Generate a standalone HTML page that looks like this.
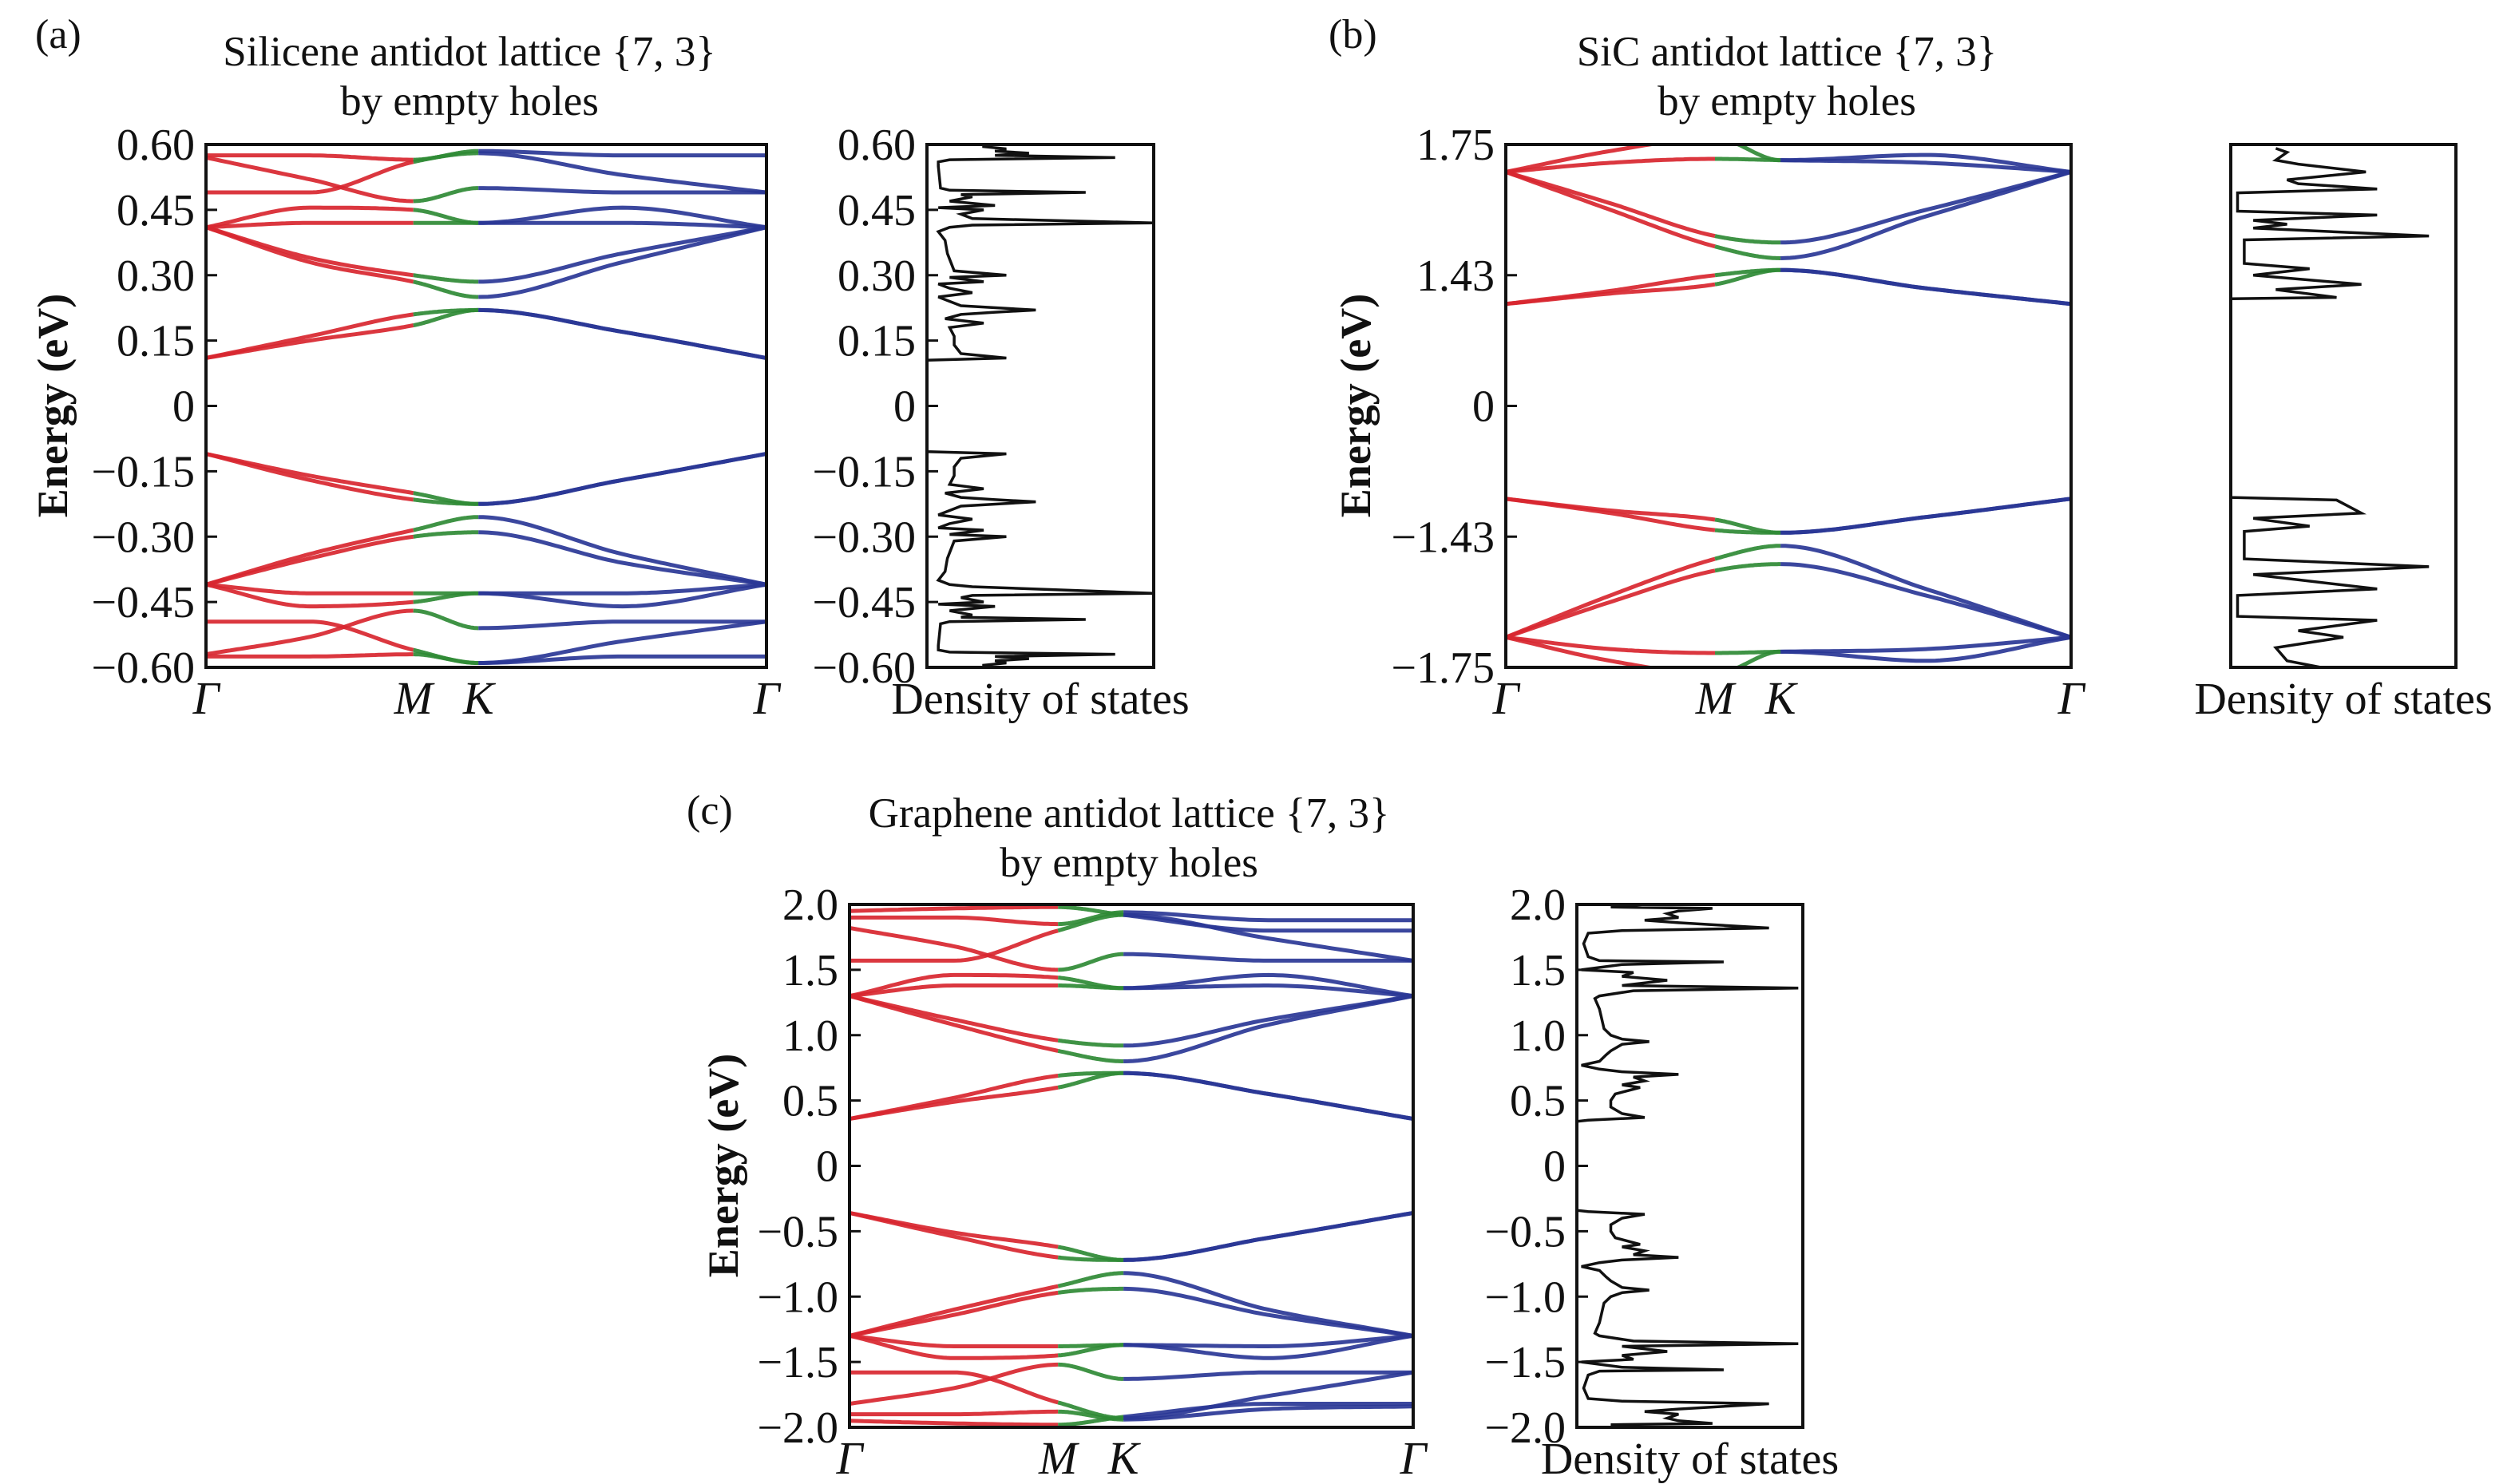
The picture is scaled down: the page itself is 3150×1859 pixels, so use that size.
<!DOCTYPE html>
<html><head><meta charset="utf-8"><style>
html,body{margin:0;padding:0;background:#fff;}
svg{display:block;font-family:"Liberation Serif",serif;}
</style></head><body>
<svg id="fig" width="3150" height="1859" viewBox="0 0 3150 1859" xmlns="http://www.w3.org/2000/svg"></svg>
<script>
// ---------- DATA ----------
const kPoints = [0, 0.185, 0.37, 0.486, 0.743, 1];
const kLabels = ["Γ", "M", "K", "Γ"];
const kLabelPos = [0, 0.37, 0.486, 1];

// Panel (a) silicene
const aTicks = [0.60, 0.45, 0.30, 0.15, 0, -0.15, -0.30, -0.45, -0.60];
const aTickLabels = ["0.60","0.45","0.30","0.15","0","\u22120.15","\u22120.30","\u22120.45","\u22120.60"];
const aBands = [
 [0.11,0.15,0.185,0.22,0.17,0.11],
 [0.11,0.16,0.21,0.22,0.17,0.11],
 [0.41,0.33,0.285,0.25,0.33,0.41],
 [0.41,0.34,0.30,0.285,0.35,0.41],
 [0.41,0.42,0.42,0.42,0.42,0.41],
 [0.41,0.455,0.45,0.42,0.455,0.41],
 [0.57,0.52,0.47,0.50,0.49,0.49],
 [0.49,0.49,0.56,0.58,0.53,0.49],
 [0.575,0.575,0.565,0.585,0.575,0.575],
 [-0.11,-0.16,-0.20,-0.225,-0.17,-0.11],
 [-0.11,-0.17,-0.215,-0.225,-0.17,-0.11],
 [-0.41,-0.34,-0.285,-0.255,-0.34,-0.41],
 [-0.41,-0.35,-0.30,-0.29,-0.36,-0.41],
 [-0.41,-0.43,-0.43,-0.43,-0.43,-0.41],
 [-0.41,-0.46,-0.45,-0.43,-0.46,-0.41],
 [-0.57,-0.53,-0.47,-0.51,-0.495,-0.495],
 [-0.495,-0.495,-0.56,-0.59,-0.54,-0.495],
 [-0.575,-0.575,-0.57,-0.59,-0.575,-0.575]
];
const aDosE = [0.60,0.595,0.59,0.585,0.58,0.575,0.57,0.565,0.56,0.55,0.50,0.495,0.49,0.485,0.48,0.47,0.46,0.455,0.45,0.44,0.43,0.42,0.415,0.41,0.40,0.38,0.35,0.31,0.30,0.295,0.285,0.28,0.27,0.26,0.25,0.24,0.23,0.22,0.215,0.21,0.20,0.19,0.18,0.16,0.14,0.12,0.11,0.105,
 -0.105,-0.11,-0.12,-0.14,-0.16,-0.18,-0.19,-0.20,-0.21,-0.215,-0.22,-0.23,-0.24,-0.25,-0.26,-0.27,-0.28,-0.285,-0.295,-0.30,-0.31,-0.35,-0.38,-0.40,-0.41,-0.415,-0.43,-0.435,-0.44,-0.45,-0.455,-0.46,-0.47,-0.48,-0.485,-0.49,-0.495,-0.50,-0.55,-0.56,-0.565,-0.57,-0.575,-0.58,-0.585,-0.59,-0.595,-0.60];
const aDosV = [0.25,0.25,0.35,0.3,0.45,0.3,0.83,0.1,0.05,0.05,0.06,0.1,0.7,0.15,0.2,0.1,0.3,0.05,0.25,0.15,0.2,1.0,0.2,0.1,0.05,0.08,0.09,0.12,0.35,0.1,0.25,0.05,0.1,0.2,0.05,0.1,0.15,0.48,0.3,0.15,0.08,0.25,0.1,0.12,0.12,0.15,0.35,0,
 0,0.35,0.15,0.12,0.12,0.1,0.25,0.08,0.15,0.3,0.48,0.15,0.1,0.05,0.2,0.1,0.05,0.25,0.1,0.35,0.12,0.09,0.08,0.05,0.1,0.2,1.0,0.2,0.15,0.25,0.05,0.3,0.1,0.2,0.15,0.7,0.1,0.06,0.05,0.05,0.1,0.83,0.3,0.45,0.3,0.35,0.25,0.25];

// Panel (b) SiC (values in axis-tick units)
const bTicks = [2, 1, 0, -1, -2];
const bTickLabels = ["1.75","1.43","0","\u22121.43","\u22121.75"];
const bBands = [
 [0.78,0.86,0.93,1.04,0.90,0.78],
 [0.78,0.88,1.00,1.04,0.90,0.78],
 [1.79,1.50,1.22,1.13,1.45,1.79],
 [1.79,1.55,1.30,1.25,1.50,1.79],
 [1.79,1.86,1.89,1.88,1.86,1.79],
 [1.79,1.95,2.05,1.88,1.92,1.79],
 [-0.71,-0.82,-0.95,-0.97,-0.85,-0.71],
 [-0.71,-0.80,-0.87,-0.97,-0.85,-0.71],
 [-1.77,-1.45,-1.17,-1.07,-1.40,-1.77],
 [-1.77,-1.50,-1.26,-1.21,-1.45,-1.77],
 [-1.77,-1.86,-1.89,-1.88,-1.86,-1.77],
 [-1.77,-1.95,-2.05,-1.88,-1.95,-1.77]
];
const bDosE = [1.97,1.94,1.88,1.85,1.79,1.73,1.70,1.66,1.63,1.49,1.46,1.42,1.39,1.36,1.30,1.27,1.09,1.05,1.00,0.93,0.89,0.83,0.82,
 -0.70,-0.72,-0.82,-0.86,-0.92,-0.96,-1.17,-1.23,-1.29,-1.40,-1.45,-1.61,-1.64,-1.72,-1.77,-1.85,-1.95,-2.0];
const bDosV = [0.2,0.25,0.2,0.3,0.6,0.25,0.3,0.65,0.03,0.03,0.65,0.1,0.25,0.1,0.88,0.06,0.06,0.35,0.1,0.58,0.2,0.47,0,
 0,0.47,0.58,0.1,0.35,0.06,0.06,0.88,0.1,0.65,0.03,0.03,0.65,0.3,0.5,0.2,0.25,0.4];

// Panel (c) graphene
const cTicks = [2.0,1.5,1.0,0.5,0,-0.5,-1.0,-1.5,-2.0];
const cTickLabels = ["2.0","1.5","1.0","0.5","0","\u22120.5","\u22121.0","\u22121.5","\u22122.0"];
const cBands = [
 [0.36,0.49,0.60,0.71,0.55,0.36],
 [0.36,0.52,0.69,0.71,0.55,0.36],
 [1.30,1.08,0.88,0.80,1.08,1.30],
 [1.30,1.12,0.96,0.92,1.12,1.30],
 [1.30,1.38,1.38,1.36,1.38,1.30],
 [1.30,1.46,1.44,1.36,1.46,1.30],
 [1.82,1.68,1.50,1.62,1.57,1.57],
 [1.57,1.57,1.80,1.92,1.74,1.57],
 [1.90,1.90,1.85,1.94,1.88,1.88],
 [1.95,1.97,1.98,1.92,1.80,1.80],
 [-0.36,-0.51,-0.62,-0.72,-0.55,-0.36],
 [-0.36,-0.54,-0.70,-0.72,-0.55,-0.36],
 [-1.30,-1.10,-0.92,-0.82,-1.10,-1.30],
 [-1.30,-1.14,-0.97,-0.94,-1.14,-1.30],
 [-1.30,-1.38,-1.38,-1.37,-1.38,-1.30],
 [-1.30,-1.47,-1.45,-1.37,-1.47,-1.30],
 [-1.82,-1.70,-1.52,-1.63,-1.58,-1.58],
 [-1.58,-1.58,-1.81,-1.93,-1.76,-1.58],
 [-1.90,-1.90,-1.88,-1.94,-1.86,-1.84],
 [-1.95,-1.97,-1.98,-1.92,-1.82,-1.82]
];
const cDosE = [2.0,1.98,1.97,1.95,1.93,1.9,1.88,1.86,1.82,1.80,1.78,1.7,1.6,1.57,1.56,1.54,1.5,1.48,1.45,1.42,1.38,1.36,1.34,1.3,1.28,1.2,1.05,1.0,0.97,0.95,0.93,0.88,0.85,0.8,0.77,0.74,0.72,0.7,0.68,0.65,0.62,0.6,0.55,0.5,0.45,0.4,0.37,0.35,0.34,
 -0.34,-0.35,-0.37,-0.4,-0.45,-0.5,-0.55,-0.6,-0.62,-0.65,-0.68,-0.7,-0.72,-0.74,-0.77,-0.8,-0.85,-0.88,-0.93,-0.95,-0.97,-1.0,-1.05,-1.2,-1.28,-1.3,-1.34,-1.36,-1.38,-1.42,-1.45,-1.48,-1.5,-1.54,-1.56,-1.57,-1.6,-1.7,-1.78,-1.80,-1.82,-1.86,-1.88,-1.9,-1.93,-1.95,-1.97,-1.98,-2.0];
const cDosV = [0.3,0.15,0.6,0.45,0.4,0.45,0.3,0.45,0.85,0.2,0.05,0.03,0.05,0.1,0.65,0.2,0.02,0.25,0.2,0.4,0.2,0.98,0.25,0.1,0.08,0.1,0.12,0.15,0.2,0.32,0.2,0.15,0.13,0.1,0.02,0.1,0.2,0.45,0.25,0.3,0.2,0.28,0.17,0.15,0.15,0.2,0.3,0.05,0,
 0,0.05,0.3,0.2,0.15,0.15,0.17,0.28,0.2,0.3,0.25,0.45,0.2,0.1,0.02,0.1,0.13,0.15,0.2,0.32,0.2,0.15,0.12,0.1,0.08,0.1,0.25,0.98,0.2,0.4,0.2,0.25,0.02,0.2,0.65,0.1,0.05,0.03,0.05,0.2,0.85,0.45,0.3,0.45,0.4,0.45,0.6,0.15,0.3];

// ---------- RENDER ----------
const NS = "http://www.w3.org/2000/svg";
const svg = document.getElementById("fig");
const RED = "#d8262f", GREEN = "#2f8a35", BLUE = "#2a3796";
const FS = 56;

function mk(tag, attrs, parent) {
  const e = document.createElementNS(NS, tag);
  for (const k in attrs) e.setAttribute(k, attrs[k]);
  (parent || svg).appendChild(e);
  return e;
}
function txt(s, x, y, size, anchor, parent, extra) {
  const t = mk("text", Object.assign({x: x, y: y, "font-size": size, "text-anchor": anchor || "middle", fill: "#111"}, extra || {}), parent);
  t.textContent = s;
  return t;
}
function monotone(xs, ys) {
  const n = xs.length, d = [], m = [];
  for (let i = 0; i < n - 1; i++) d.push((ys[i+1]-ys[i])/(xs[i+1]-xs[i]));
  m[0] = d[0]; m[n-1] = d[n-2];
  for (let i = 1; i < n - 1; i++) m[i] = (d[i-1]*d[i] <= 0) ? 0 : (d[i-1]+d[i])/2;
  for (let i = 0; i < n - 1; i++) {
    if (d[i] === 0) { m[i] = 0; m[i+1] = 0; continue; }
    const a = m[i]/d[i], b = m[i+1]/d[i], s = a*a+b*b;
    if (s > 9) { const t = 3/Math.sqrt(s); m[i] = t*a*d[i]; m[i+1] = t*b*d[i]; }
  }
  return function(x) {
    let i = 0; while (i < n - 2 && x > xs[i+1]) i++;
    const h = xs[i+1]-xs[i], t = (x-xs[i])/h;
    const h00 = 2*t*t*t-3*t*t+1, h10 = t*t*t-2*t*t+t, h01 = -2*t*t*t+3*t*t, h11 = t*t*t-t*t;
    return h00*ys[i]+h10*h*m[i]+h01*ys[i+1]+h11*h*m[i+1];
  };
}

function bandPanel(name, box, ymin, ymax, ticks, tickLabels, bands) {
  const g = mk("g", {});
  
  
  const X = k => box.x0 + k*(box.x1-box.x0);
  const Y = v => box.y1 - (v-ymin)/(ymax-ymin)*(box.y1-box.y0);
  const clip = mk("clipPath", {id: name+"-clip"}, g);
  mk("rect", {x: box.x0, y: box.y0, width: box.x1-box.x0, height: box.y1-box.y0}, clip);
  const lines = mk("g", {"clip-path": "url(#"+name+"-clip)"}, g);
  const ranges = [[0, 0.37, RED], [0.37, 0.486, GREEN], [0.486, 1, BLUE]];
  bands.forEach((b) => {
    const f = monotone(kPoints, b);
    ranges.forEach(r => {
      let d = "";
      const N = 60;
      for (let i = 0; i <= N; i++) {
        const k = r[0] + (r[1]-r[0])*i/N;
        d += (i ? "L" : "M") + X(k).toFixed(1) + "," + Y(f(k)).toFixed(1);
      }
      const p = mk("path", {d: d, fill: "none", stroke: r[2], "stroke-width": 5, "stroke-opacity": 0.92}, lines);
      
      
    });
  });
  const frame = mk("rect", {x: box.x0, y: box.y0, width: box.x1-box.x0, height: box.y1-box.y0, fill: "none", stroke: "#111", "stroke-width": 4}, g);
  
  
  ticks.forEach((t, i) => {
    mk("line", {x1: box.x0, x2: box.x0+14, y1: Y(t), y2: Y(t), stroke: "#111", "stroke-width": 3}, g);
    const l = txt(tickLabels[i], box.x0-14, Y(t)+19, FS, "end", g);
    
    
  });
  kLabels.forEach((s, i) => {
    const l = txt(s, X(kLabelPos[i]), box.y1+58, 58, "middle", g, {"font-style": "italic"});
    
    
  });
}

function dosPanel(name, box, ymin, ymax, ticks, tickLabels, E, V) {
  const g = mk("g", {});
  
  
  const Y = v => box.y1 - (v-ymin)/(ymax-ymin)*(box.y1-box.y0);
  const X = v => box.x0 + v*(box.x1-box.x0);
  let d = "";
  E.forEach((e, i) => { d += (i ? "L" : "M") + X(V[i]).toFixed(1) + "," + Y(e).toFixed(1); });
  const p = mk("path", {d: d, fill: "none", stroke: "#111", "stroke-width": 3.5}, g);
  
  
  const frame = mk("rect", {x: box.x0, y: box.y0, width: box.x1-box.x0, height: box.y1-box.y0, fill: "none", stroke: "#111", "stroke-width": 4}, g);
  
  
  ticks.forEach((t, i) => {
    mk("line", {x1: box.x0, x2: box.x0+14, y1: Y(t), y2: Y(t), stroke: "#111", "stroke-width": 3}, g);
    if (tickLabels) {
      const l = txt(tickLabels[i], box.x0-14, Y(t)+19, FS, "end", g);
      
      
    }
  });
  const xl = txt("Density of states", (box.x0+box.x1)/2, box.y1+58, FS, "middle", g);
  
  
}

function title(lines, cx, y, name) {
  lines.forEach((s, i) => {
    const t = txt(s, cx, y + i*62, 53, "middle");
    
    
  });
}
function ylab(x, cy) {
  const t = txt("Energy (eV)", x, cy, 54, "middle", svg, {transform: "rotate(-90 "+x+" "+cy+")", "font-weight": "bold"});
  
  
}
function plabel(s, x, y) {
  const t = txt(s, x, y, 52, "start");
  
  
}

// (a)
plabel("(a)", 44, 60);
title(["Silicene antidot lattice {7, 3}", "by empty holes"], 588, 82, "panel-a-title");
ylab(84, 508);
bandPanel("panel-a-bands", {x0: 258, x1: 960, y0: 181, y1: 836}, -0.6, 0.6, aTicks, aTickLabels, aBands);
dosPanel("panel-a-dos", {x0: 1161, x1: 1445, y0: 181, y1: 836}, -0.6, 0.6, aTicks, aTickLabels, aDosE, aDosV);

// (b)
plabel("(b)", 1664, 60);
title(["SiC antidot lattice {7, 3}", "by empty holes"], 2238, 82, "panel-b-title");
ylab(1716, 508);
bandPanel("panel-b-bands", {x0: 1886, x1: 2594, y0: 181, y1: 836}, -2, 2, bTicks, bTickLabels, bBands);
dosPanel("panel-b-dos", {x0: 2794, x1: 3076, y0: 181, y1: 836}, -2, 2, [], null, bDosE, bDosV);

// (c)
plabel("(c)", 860, 1032);
title(["Graphene antidot lattice {7, 3}", "by empty holes"], 1414, 1036, "panel-c-title");
ylab(924, 1460);
bandPanel("panel-c-bands", {x0: 1064, x1: 1770, y0: 1133, y1: 1788}, -2, 2, cTicks, cTickLabels, cBands);
dosPanel("panel-c-dos", {x0: 1975, x1: 2258, y0: 1133, y1: 1788}, -2, 2, cTicks, cTickLabels, cDosE, cDosV);
</script>
</body></html>
